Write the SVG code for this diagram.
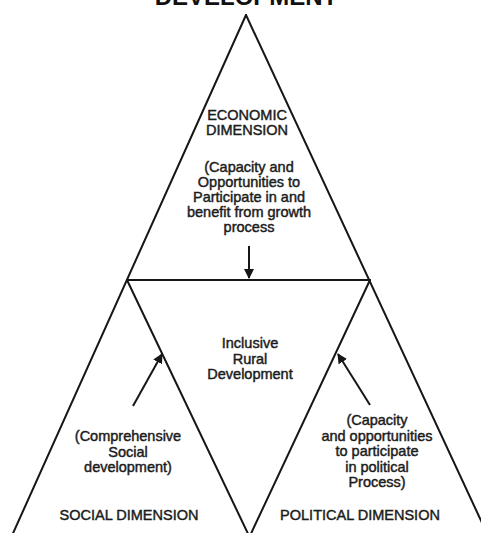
<svg xmlns="http://www.w3.org/2000/svg" width="481" height="533" viewBox="0 0 481 533">
  <defs>
    <style>
      .edge { stroke: #161616; stroke-width: 2; fill: none; stroke-linecap: round; }
      .arrow { stroke: #161616; stroke-width: 2; fill: none; marker-end: url(#head); }
      .lbl { font-family: "Liberation Sans", Arial, sans-serif; font-size: 14.5px; fill: #1c1c1c; text-anchor: middle; stroke: #1c1c1c; stroke-width: 0.45; }
      .title { font-family: "Liberation Sans", Arial, sans-serif; font-size: 24px; font-weight: bold; fill: #111; text-anchor: middle; }
    </style>
    <marker id="head" viewBox="0 0 10 10" refX="9" refY="5" markerWidth="5" markerHeight="5" orient="auto" markerUnits="strokeWidth">
      <path d="M0,0 L10,5 L0,10 Z" fill="#161616"/>
    </marker>
  </defs>

  <rect width="481" height="533" fill="#ffffff"/>

  <!-- heading, running off the top edge -->
  <text class="title" x="246" y="5">DEVELOPMENT</text>

  <!-- outer triangle, crossbar and the inverted middle triangle -->
  <g id="frame">
    <line class="edge" x1="246" y1="15" x2="10" y2="540"/>
    <line class="edge" x1="246" y1="15" x2="490" y2="540"/>
    <line class="edge" x1="127" y1="280" x2="370" y2="280"/>
    <line class="edge" x1="127" y1="280" x2="251" y2="540"/>
    <line class="edge" x1="370" y1="280" x2="248" y2="540"/>
  </g>

  <g id="connectors">
    <line class="arrow" x1="249" y1="246" x2="249" y2="278"/>
    <line class="arrow" x1="133" y1="406" x2="162" y2="354"/>
    <line class="arrow" x1="370" y1="405" x2="338" y2="354"/>
  </g>

  <g id="economic">
    <text class="lbl" x="247" y="120">ECONOMIC</text>
    <text class="lbl" x="247" y="135">DIMENSION</text>
    <text class="lbl" x="249" y="172">(Capacity and</text>
    <text class="lbl" x="249" y="187">Opportunities to</text>
    <text class="lbl" x="249" y="202">Participate in and</text>
    <text class="lbl" x="249" y="217">benefit from growth</text>
    <text class="lbl" x="249" y="232">process</text>
  </g>

  <g id="inclusive">
    <text class="lbl" x="250" y="348">Inclusive</text>
    <text class="lbl" x="250" y="364">Rural</text>
    <text class="lbl" x="250" y="379">Development</text>
  </g>

  <g id="social">
    <text class="lbl" x="128" y="441">(Comprehensive</text>
    <text class="lbl" x="128" y="457">Social</text>
    <text class="lbl" x="128" y="472">development)</text>
    <text class="lbl" x="129" y="520">SOCIAL DIMENSION</text>
  </g>

  <g id="political">
    <text class="lbl" x="377" y="425">(Capacity</text>
    <text class="lbl" x="377" y="441">and opportunities</text>
    <text class="lbl" x="377" y="456">to participate</text>
    <text class="lbl" x="377" y="472">in political</text>
    <text class="lbl" x="377" y="487">Process)</text>
    <text class="lbl" x="360" y="520">POLITICAL DIMENSION</text>
  </g>
</svg>
